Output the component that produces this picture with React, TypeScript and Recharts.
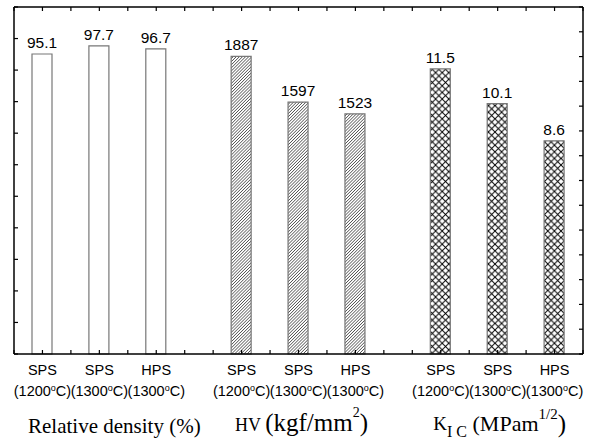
import { BarChart, Bar, XAxis, YAxis, LabelList } from 'recharts';

const methods = ['SPS', 'SPS', 'HPS'];
const temperatures = ['1200', '1300', '1300'];
const relativeDensity = [95.1, 97.7, 96.7];
const hardness = [1887, 1597, 1523];
const toughness = [11.5, 10.1, 8.6];

const seriesKeys = ['density', 'hv', 'kic'];
const seriesValues = [relativeDensity, hardness, toughness];

// 20 slots across the frame, each group takes 7
const rows: any[] = [];
seriesValues.forEach((vals, g) =>
  vals.forEach((v, i) =>
    rows.push({ slot: g * 7 + i * 2 + 1, group: g, idx: i, [seriesKeys[g]]: v })
  )
);

const slotTicks = Array.from({ length: 21 }, (_, i) => i);
const densityTicks = Array.from({ length: 12 }, (_, i) => i * 10);
const kicTicks = Array.from({ length: 15 }, (_, i) => i);

const sans = '"Liberation Sans", Arial, sans-serif';
const serif = '"Liberation Serif", "Times New Roman", serif';
const titleShift = [15, 3, 2];

function GroupTitle({ g, x, y }: { g: number; x: number; y: number }) {
  const cx = x + titleShift[g];
  if (g === 0) {
    return (
      <text x={cx} y={y} textAnchor="middle" fontFamily={serif} fontSize={21} fill="#000">
        Relative density (%)
      </text>
    );
  }
  if (g === 1) {
    return (
      <text x={cx} y={y - 2} textAnchor="middle" fontFamily={serif} fill="#000">
        <tspan fontSize={18}>HV </tspan>
        <tspan fontSize={25}>(kgf/mm</tspan>
        <tspan fontSize={14} dy={-14}>2</tspan>
        <tspan fontSize={25} dy={14}>)</tspan>
      </text>
    );
  }
  return (
    <text x={cx} y={y - 3} textAnchor="middle" fontFamily={serif} fill="#000">
      <tspan fontSize={19}>K</tspan>
      <tspan fontSize={16} dy={7}>I C</tspan>
      <tspan fontSize={22} dy={-6}> (MPam</tspan>
      <tspan fontSize={15} dy={-12}>1/2</tspan>
      <tspan fontSize={25} dy={13}>)</tspan>
    </text>
  );
}

function SlotTick(props: any) {
  const { x, y, payload } = props;
  const row = rows.find((r) => r.slot === payload.value);
  if (!row) return null;
  return (
    <g>
      <text x={x} y={y + 23} textAnchor="middle" fontFamily={sans} fontSize={14.5} fill="#000">
        {methods[row.idx]}
      </text>
      <text x={x} y={y + 44} textAnchor="middle" fontFamily={sans} fontSize={14.5} fill="#000">
        ({temperatures[row.idx]}
        <tspan fontSize={9} dy={-5}>o</tspan>
        <tspan fontSize={14.5} dy={5}>C)</tspan>
      </text>
      {row.idx === 1 && <GroupTitle g={row.group} x={x} y={y + 81} />}
    </g>
  );
}

const axisLine = { stroke: '#000', strokeWidth: 1.5 };
const tickLine = { stroke: '#000', strokeWidth: 1.2 };
const barLabel = { fontFamily: sans, fontSize: 15.5, fill: '#000' };
const noLabel = () => <g />;

export default function App() {
  return (
    <div style={{ position: 'absolute', left: 0, top: 0, background: '#fff' }}>
      <BarChart
        width={607}
        height={441}
        data={rows}
        margin={{ top: 6, right: 23, bottom: 0, left: 13 }}
      >
        <defs>
          <pattern id="hatch" width="2.2" height="2.2" patternUnits="userSpaceOnUse" patternTransform="rotate(45)">
            <rect width="2.2" height="2.2" fill="#fff" />
            <line x1="0" y1="0" x2="0" y2="2.2" stroke="#000" strokeWidth="1" />
          </pattern>
          <pattern id="cross" width="6.6" height="6.6" patternUnits="userSpaceOnUse">
            <rect width="6.6" height="6.6" fill="#fff" />
            <path d="M0,0 L6.6,6.6 M6.6,0 L0,6.6" stroke="#000" strokeWidth="1" />
          </pattern>
        </defs>
        <XAxis
          xAxisId="density"
          dataKey="slot"
          type="number"
          domain={[0, 20]}
          ticks={slotTicks}
          interval={0}
          height={87}
          axisLine={axisLine}
          tickLine={tickLine}
          tickSize={-4}
          tick={<SlotTick />}
        />
        <XAxis xAxisId="hv" dataKey="slot" type="number" domain={[0, 20]} hide />
        <XAxis xAxisId="kic" dataKey="slot" type="number" domain={[0, 20]} hide />
        <XAxis
          xAxisId="top"
          orientation="top"
          dataKey="slot"
          type="number"
          domain={[0, 20]}
          ticks={slotTicks}
          interval={0}
          height={1}
          axisLine={axisLine}
          tickLine={tickLine}
          tickSize={-4}
          tick={noLabel}
        />
        <YAxis
          yAxisId="density"
          domain={[0, 110]}
          ticks={densityTicks}
          interval={0}
          width={1}
          axisLine={axisLine}
          tickLine={tickLine}
          tickSize={-4}
          tick={noLabel}
        />
        <YAxis yAxisId="hv" domain={[0, 2200]} hide />
        <YAxis
          yAxisId="kic"
          orientation="right"
          domain={[0, 14]}
          ticks={kicTicks}
          interval={0}
          width={1}
          axisLine={axisLine}
          tickLine={tickLine}
          tickSize={-4}
          tick={noLabel}
        />
        <Bar
          dataKey="density"
          xAxisId="density"
          yAxisId="density"
          barSize={20}
          fill="#fff"
          stroke="#777"
          strokeWidth={1.2}
          isAnimationActive={false}
        >
          <LabelList dataKey="density" position="top" offset={6} style={barLabel} />
        </Bar>
        <Bar
          dataKey="hv"
          xAxisId="hv"
          yAxisId="hv"
          barSize={20}
          fill="url(#hatch)"
          stroke="#777"
          strokeWidth={1.2}
          isAnimationActive={false}
        >
          <LabelList dataKey="hv" position="top" offset={6} style={barLabel} />
        </Bar>
        <Bar
          dataKey="kic"
          xAxisId="kic"
          yAxisId="kic"
          barSize={20}
          fill="url(#cross)"
          stroke="#777"
          strokeWidth={1.2}
          isAnimationActive={false}
        >
          <LabelList dataKey="kic" position="top" offset={6} style={barLabel} />
        </Bar>
      </BarChart>
    </div>
  );
}
